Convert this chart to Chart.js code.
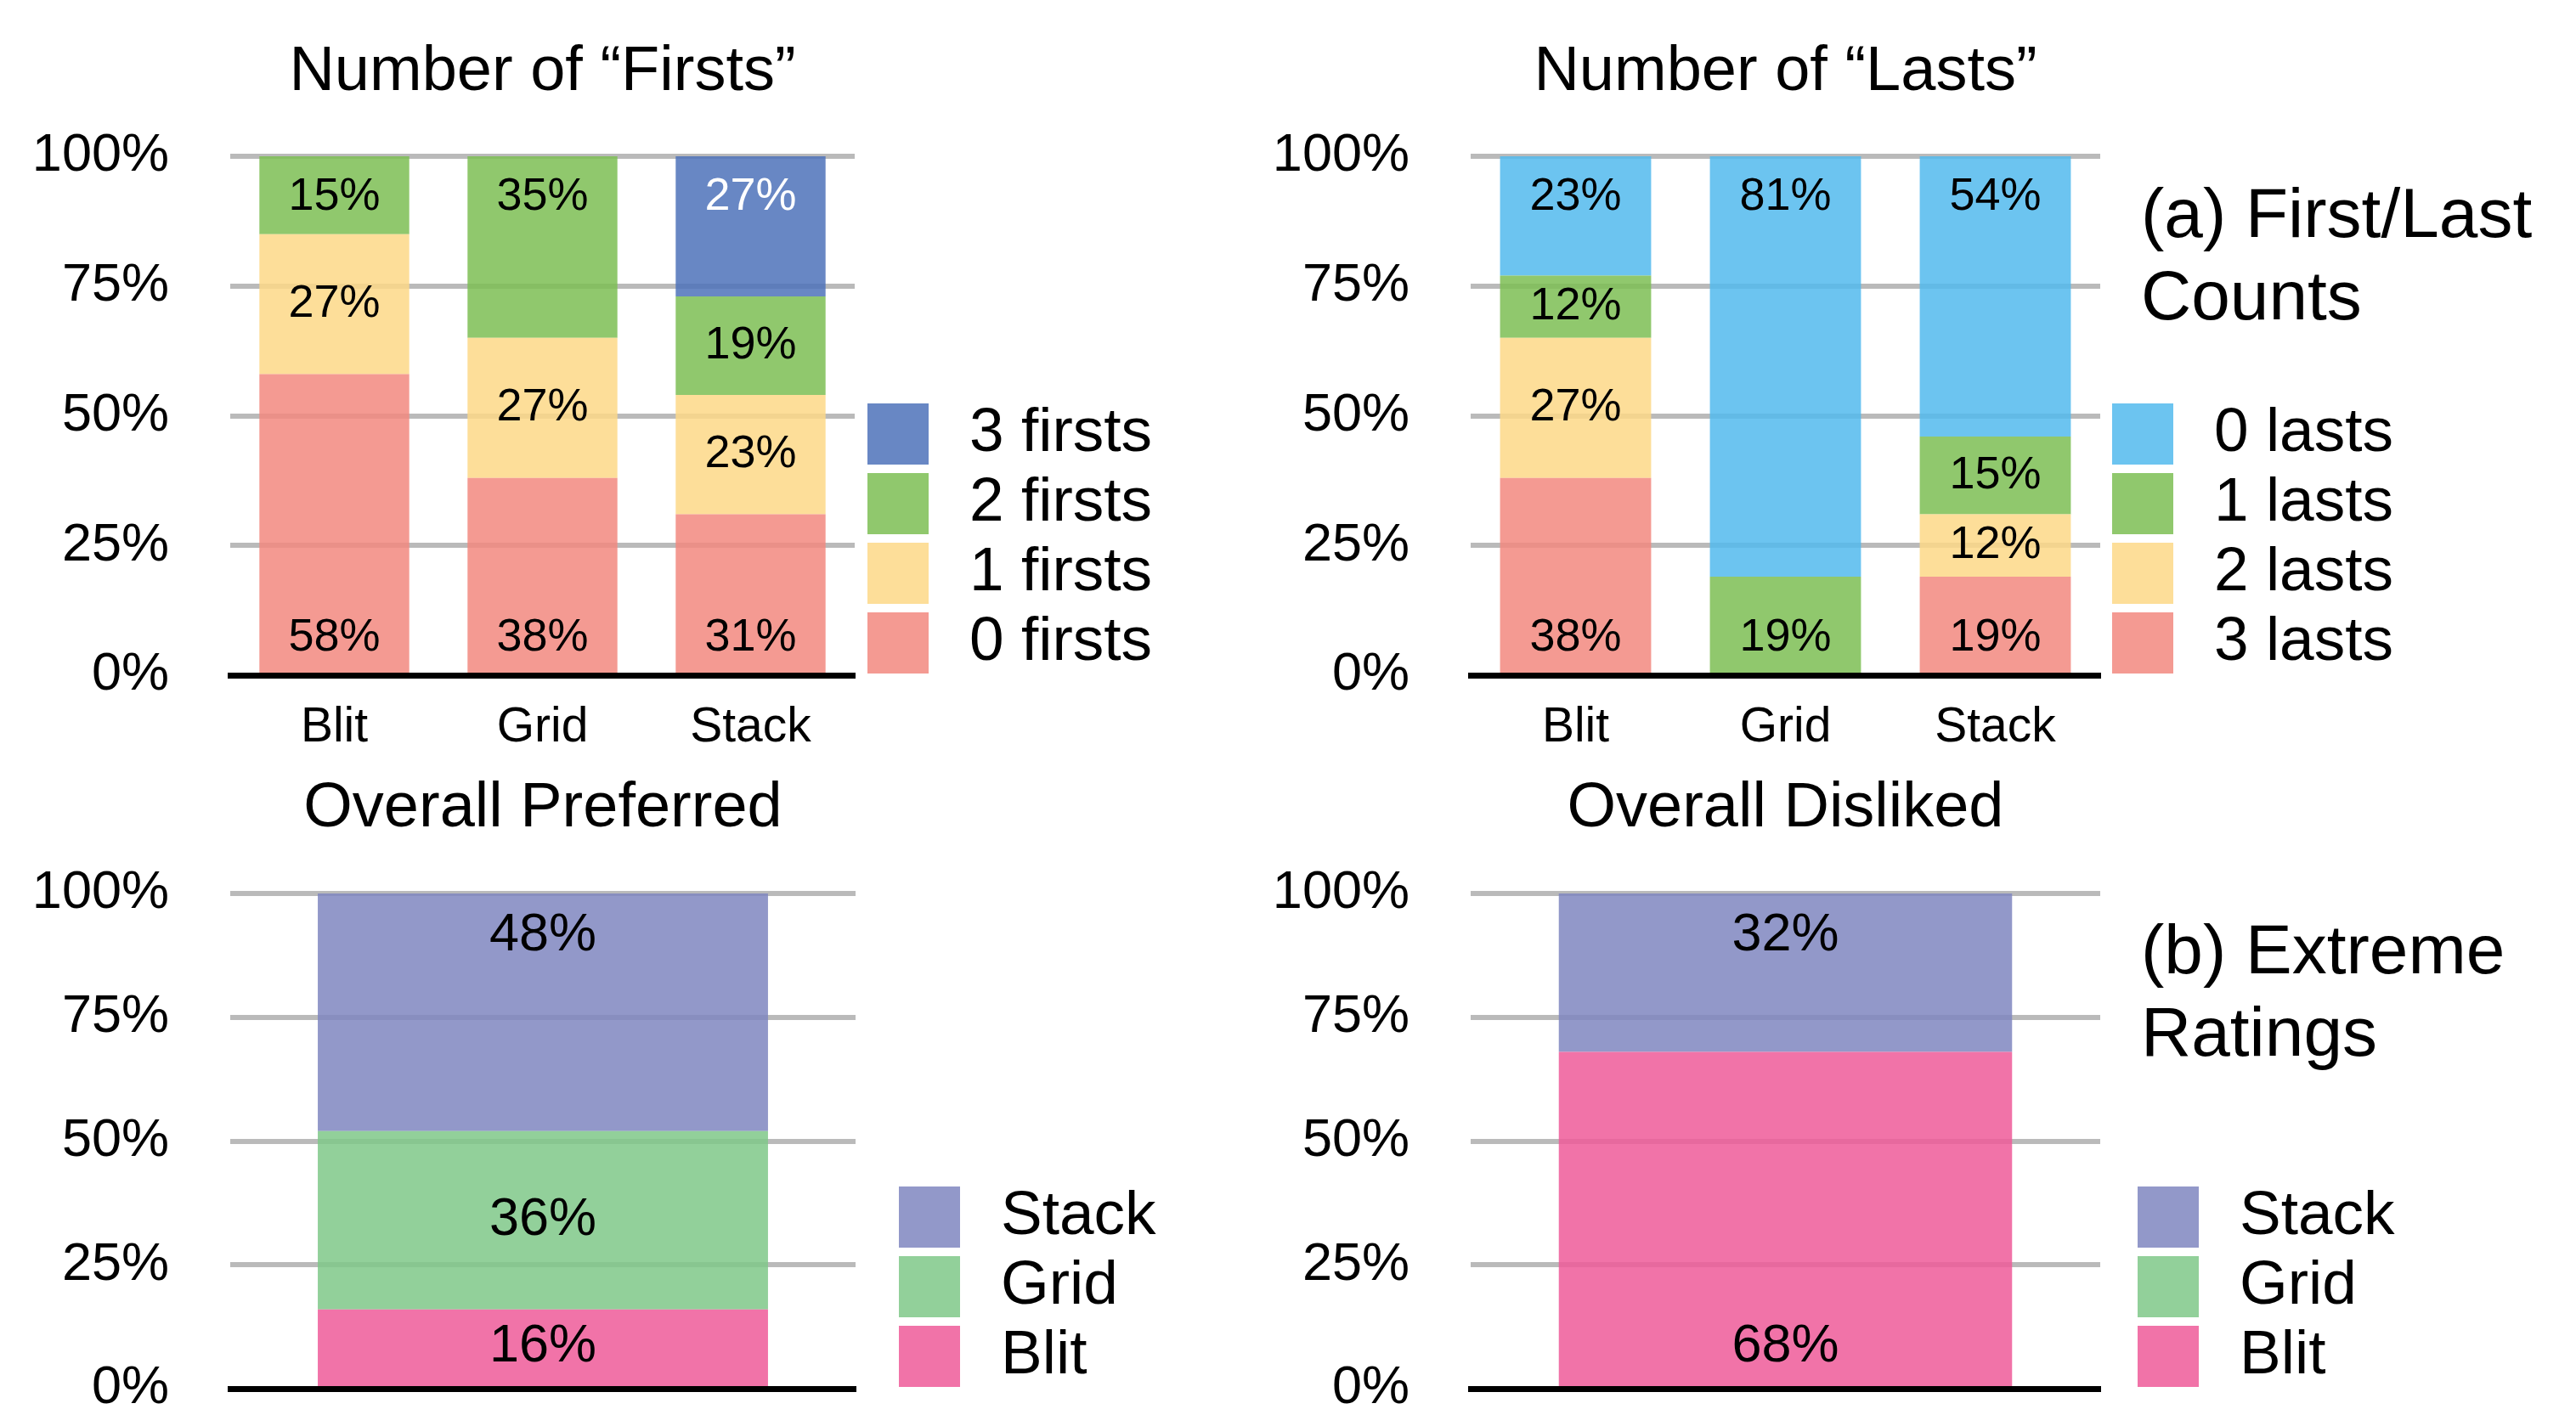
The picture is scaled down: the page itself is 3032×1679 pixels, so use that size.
<!DOCTYPE html>
<html>
<head>
<meta charset="utf-8">
<script src="https://cdn.jsdelivr.net/npm/chart.js@4.4.1/dist/chart.umd.min.js"></script>
<style>
  body { margin: 0; background: #fff; width: 3032px; height: 1679px; position: relative; overflow: hidden;
         font-family: "Liberation Sans", Arial, sans-serif; }
  .box { position: absolute; }
  .note { position: absolute; left: 2520px; font-size: 82px; line-height: 97px; color: #000; white-space: nowrap; }
</style>
</head>
<body>
<div class="box" style="left:0;top:0;width:1420px;height:900px"><canvas id="firsts"></canvas></div>
<div class="box" style="left:1460px;top:0;width:1420px;height:900px"><canvas id="lasts"></canvas></div>
<div class="box" style="left:0;top:880px;width:1420px;height:799px"><canvas id="preferred"></canvas></div>
<div class="box" style="left:1460px;top:880px;width:1420px;height:799px"><canvas id="disliked"></canvas></div>
<div class="note" style="top:202px">(a) First/Last<br>Counts</div>
<div class="note" style="top:1069px">(b) Extreme<br>Ratings</div>
<script>
// data (percent of participants)
const methods = ["Blit", "Grid", "Stack"];
const yTicks = [0, 25, 50, 75, 100];

const firstsLabels = ["0 firsts", "1 firsts", "2 firsts", "3 firsts"];
const firsts0 = [58, 38, 31];
const firsts1 = [27, 27, 23];
const firsts2 = [15, 35, 19];
const firsts3 = [0, 0, 27];

const lastsLabels = ["3 lasts", "2 lasts", "1 lasts", "0 lasts"];
const lasts3 = [38, 0, 19];
const lasts2 = [27, 0, 12];
const lasts1 = [12, 19, 15];
const lasts0 = [23, 81, 54];

// Blit, Grid, Stack
const preferred = [16, 36, 48];
const disliked = [68, 0, 32];

Chart.defaults.font.family = '"Liberation Sans", Arial, sans-serif';
Chart.defaults.color = '#000';

const RED = 'rgba(242,136,127,0.85)';
const YELLOW = 'rgba(253,216,135,0.85)';
const GREEN = 'rgba(124,190,84,0.85)';
const BLUE = 'rgba(78,114,186,0.85)';
const SKY = 'rgba(82,186,237,0.85)';
const PURPLE = 'rgba(127,134,192,0.85)';
const MINT = 'rgba(127,200,136,0.85)';
const PINK = 'rgba(239,90,153,0.85)';

// percent labels inside the segments
const segLabels = {
  id: 'segLabels',
  afterDatasetsDraw(chart, args, o) {
    const ctx = chart.ctx;
    const sets = chart.data.datasets;
    ctx.save();
    ctx.font = o.size + 'px "Liberation Sans", Arial, sans-serif';
    ctx.textAlign = 'center';
    ctx.textBaseline = 'middle';
    sets.forEach((ds, i) => {
      chart.getDatasetMeta(i).data.forEach((el, j) => {
        const v = ds.data[j];
        if (!v) return;
        const isTop = !sets.some((d, k) => k > i && d.data[j] > 0);
        const isBottom = !sets.some((d, k) => k < i && d.data[j] > 0);
        const p = el.getProps(['x', 'y', 'base'], true);
        let y = (p.y + p.base) / 2;
        if (isTop) y = p.y + o.top;
        else if (isBottom) y = p.base - o.bottom;
        ctx.fillStyle = ds.labelColor || '#000';
        ctx.fillText(v + '%', p.x, y);
      });
    });
    ctx.restore();
  }
};

// square legend at the lower right of the plot
const boxLegend = {
  id: 'boxLegend',
  afterDraw(chart, args, o) {
    const ctx = chart.ctx, area = chart.chartArea;
    const items = chart.data.datasets.slice().reverse();
    const left = area.right + o.gap;
    const top = area.bottom - o.bottomGap - o.size - (items.length - 1) * o.pitch;
    ctx.save();
    ctx.font = '73px "Liberation Sans", Arial, sans-serif';
    ctx.textBaseline = 'middle';
    items.forEach((ds, i) => {
      const y = top + i * o.pitch;
      ctx.fillStyle = ds.backgroundColor;
      ctx.fillRect(left, y, o.size, o.size);
      ctx.fillStyle = '#000';
      ctx.fillText(ds.label, left + o.textGap, y + o.size / 2);
    });
    ctx.restore();
  }
};

function stackedChart(id, labels, datasets, o) {
  return new Chart(document.getElementById(id), {
    type: 'bar',
    data: { labels: labels, datasets: datasets },
    options: {
      responsive: true,
      maintainAspectRatio: false,
      animation: false,
      layout: { padding: { left: 0, right: o.padRight, top: 0, bottom: 0 } },
      datasets: { bar: { categoryPercentage: 0.8, barPercentage: 0.9, borderWidth: 0 } },
      scales: {
        x: {
          stacked: true,
          grid: { display: false },
          border: { color: '#000', width: 7, z: 1 },
          ticks: { display: o.showX, font: { size: 57 }, color: '#000', padding: 20 },
          afterFit: s => { s.height = o.xHeight; }
        },
        y: {
          stacked: true,
          min: 0,
          max: 100,
          border: { display: false },
          grid: { color: '#bababa', lineWidth: 6, drawTicks: false },
          ticks: { font: { size: 63 }, color: '#000', padding: 72, callback: v => v + '%' },
          afterBuildTicks: s => { s.ticks = yTicks.map(v => ({ value: v })); },
          afterFit: s => { s.width = 271; s.paddingTop = 0; s.paddingBottom = 0; }
        }
      },
      plugins: {
        legend: { display: false },
        tooltip: { enabled: false },
        title: {
          display: true,
          text: o.title,
          fullSize: false,
          color: '#000',
          font: { size: 74, weight: 'normal' },
          padding: { top: o.titleTop, bottom: o.titleBottom }
        },
        segLabels: { size: o.labelSize, top: o.topOff, bottom: o.botOff },
        boxLegend: { gap: o.legendGap, size: 72, pitch: 82, bottomGap: 2, textGap: 120 }
      }
    },
    plugins: [segLabels, boxLegend]
  });
}

const topOpts = { showX: true, xHeight: 105, titleTop: 41.6, titleBottom: 53.6, labelSize: 54, topOff: 48, botOff: 41 };
const botOpts = { showX: false, xHeight: 44, titleTop: 28.6, titleBottom: 54.6, labelSize: 63, topOff: 50, botOff: 46 };

stackedChart('firsts', methods, [
  { label: firstsLabels[0], data: firsts0, backgroundColor: RED },
  { label: firstsLabels[1], data: firsts1, backgroundColor: YELLOW },
  { label: firstsLabels[2], data: firsts2, backgroundColor: GREEN },
  { label: firstsLabels[3], data: firsts3, backgroundColor: BLUE, labelColor: '#fff' }
], Object.assign({ title: 'Number of \u201cFirsts\u201d', padRight: 414, legendGap: 15 }, topOpts));

stackedChart('lasts', methods, [
  { label: lastsLabels[0], data: lasts3, backgroundColor: RED },
  { label: lastsLabels[1], data: lasts2, backgroundColor: YELLOW },
  { label: lastsLabels[2], data: lasts1, backgroundColor: GREEN },
  { label: lastsLabels[3], data: lasts0, backgroundColor: SKY }
], Object.assign({ title: 'Number of \u201cLasts\u201d', padRight: 408, legendGap: 14 }, topOpts));

const ratingColors = [PINK, MINT, PURPLE];

stackedChart('preferred', [''], methods.map((m, i) => (
  { label: m, data: [preferred[i]], backgroundColor: ratingColors[i] }
)), Object.assign({ title: 'Overall Preferred', padRight: 413, legendGap: 51 }, botOpts));

stackedChart('disliked', [''], methods.map((m, i) => (
  { label: m, data: [disliked[i]], backgroundColor: ratingColors[i] }
)), Object.assign({ title: 'Overall Disliked', padRight: 408, legendGap: 44 }, botOpts));
</script>
</body>
</html>
